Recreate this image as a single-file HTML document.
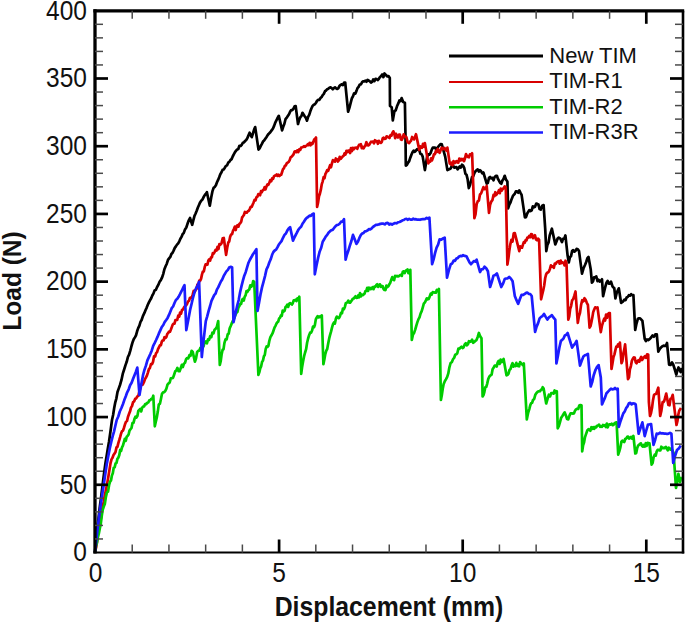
<!DOCTYPE html>
<html><head><meta charset="utf-8"><style>
html,body{margin:0;padding:0;background:#fff;}
body{width:685px;height:623px;overflow:hidden;}
svg{display:block;}
text{font-family:"Liberation Sans",sans-serif;fill:#111;}
</style></head><body>
<svg width="685" height="623" viewBox="0 0 685 623">
<g>
<polyline points="95.0,552.0 96.1,539.5 97.2,528.5 98.5,518.3 99.8,506.8 101.2,496.4 102.6,485.0 104.0,473.7 105.4,463.4 106.6,456.2 107.8,448.8 109.0,441.7 110.5,431.2 112.0,420.0 113.1,415.0 114.2,408.0 115.3,402.3 116.4,398.3 117.5,392.0 118.8,388.4 120.0,385.0 121.4,380.2 122.9,373.3 124.3,369.0 125.5,365.1 126.7,361.8 127.9,357.0 129.1,354.6 130.3,350.6 131.5,346.0 132.6,342.2 133.7,339.3 134.9,337.4 136.0,335.3 137.1,331.3 138.2,328.1 139.4,325.6 140.5,321.9 141.6,320.0 142.9,316.1 144.3,313.2 145.6,310.0 146.7,307.6 147.8,304.8 148.9,302.4 150.1,300.1 151.2,298.2 152.3,295.5 153.4,293.6 154.6,290.4 155.9,289.8 157.1,287.0 158.3,284.9 159.6,281.7 160.8,280.1 162.0,277.7 163.2,274.1 164.4,269.2 165.6,266.3 166.8,263.7 168.0,259.9 169.1,258.4 170.3,256.9 171.4,254.0 172.5,252.8 173.6,250.6 174.8,247.9 175.9,246.4 177.0,244.6 178.2,243.3 179.3,241.3 180.4,238.7 181.5,236.9 182.7,233.9 183.8,232.9 185.0,229.4 186.3,227.5 187.5,223.8 188.8,220.3 190.0,218.0 192.2,224.8 193.3,220.4 194.5,215.8 195.6,213.5 196.7,210.8 197.9,207.5 199.0,205.0 200.1,202.4 201.2,200.7 202.4,199.6 203.5,197.3 204.6,195.4 205.8,193.9 206.9,192.2 209.8,205.7 211.2,197.5 212.5,191.1 213.6,187.9 214.7,187.0 215.9,185.3 217.0,182.3 218.1,179.9 219.2,177.2 220.3,174.2 221.5,172.3 222.6,169.8 223.7,169.4 224.8,167.7 225.9,165.9 227.1,165.3 228.2,162.7 229.3,161.9 230.4,160.1 231.6,159.1 232.7,156.5 233.8,154.4 235.0,152.1 236.1,150.7 237.2,149.5 238.3,149.0 239.4,145.8 240.6,146.0 241.7,144.8 242.8,142.8 243.9,142.4 245.1,141.0 246.2,140.0 247.3,138.3 248.4,135.5 249.6,132.7 250.7,135.1 251.8,137.2 252.9,133.7 254.1,129.6 255.2,127.1 258.5,149.6 259.6,148.4 260.8,145.9 261.9,143.9 263.0,141.6 264.1,140.6 265.3,138.8 266.4,137.2 267.5,135.4 268.6,133.9 269.8,132.8 270.9,131.4 272.0,129.9 273.1,128.2 274.2,125.6 275.4,122.3 276.5,120.2 277.7,117.6 278.8,115.8 282.1,130.4 283.2,126.8 284.4,123.7 285.5,119.2 286.6,117.9 287.8,116.0 289.0,114.2 290.1,111.7 291.2,110.1 292.3,110.1 293.5,108.7 294.6,106.4 295.7,106.1 298.0,124.0 299.1,120.2 300.2,117.4 301.4,116.1 302.5,112.8 304.7,116.2 305.9,117.9 307.0,120.7 308.1,116.8 309.2,114.8 310.4,111.1 311.5,108.3 312.6,105.9 313.8,104.7 314.9,104.2 316.0,102.7 317.1,100.8 318.2,99.9 319.4,99.8 320.5,98.1 321.6,97.1 322.7,95.1 323.8,93.9 325.0,91.2 326.1,90.5 327.2,89.2 328.3,88.7 329.4,87.8 330.6,87.4 331.7,88.1 332.8,89.2 333.9,88.1 335.0,87.3 336.2,88.4 337.3,89.0 338.4,88.1 339.5,85.8 340.7,84.9 341.8,84.3 342.9,85.0 344.1,82.5 345.2,82.5 348.1,111.7 349.4,107.8 350.6,103.2 351.9,98.2 353.0,96.3 354.1,93.3 355.3,93.6 356.4,91.1 357.5,88.1 358.6,86.8 359.7,84.5 360.9,84.5 362.0,82.3 363.1,81.3 364.2,81.5 365.4,80.7 366.5,81.7 367.6,79.8 368.8,80.6 369.9,81.3 371.0,82.5 372.1,81.9 373.2,79.5 374.4,81.1 375.5,78.8 376.6,79.1 377.7,80.1 378.9,78.8 380.0,77.1 381.1,76.0 382.2,74.5 383.4,77.1 384.5,73.5 385.6,74.6 387.1,76.4 388.5,76.0 389.8,78.0 390.0,106.0 391.7,107.3 392.8,120.4 394.4,111.2 395.7,110.3 397.0,106.3 398.3,103.4 399.4,100.5 400.5,101.2 401.6,98.1 403.2,102.1 404.9,102.7 405.5,136.2 405.8,165.6 406.9,164.8 408.1,162.6 409.2,161.1 410.3,157.7 411.5,154.5 412.6,152.1 413.7,150.6 414.8,151.8 416.0,150.5 417.1,149.2 418.2,149.9 419.3,150.2 420.4,153.8 421.6,154.2 422.7,156.6 424.9,170.1 426.0,163.3 427.2,156.6 428.3,154.3 429.4,154.6 430.6,153.0 431.7,149.9 432.8,147.6 433.9,147.7 435.0,147.6 436.2,149.4 437.3,148.1 438.4,146.5 439.5,145.2 440.7,144.0 441.8,144.3 445.2,156.6 447.4,170.1 448.5,169.6 449.6,169.1 450.8,168.3 451.9,165.6 453.0,165.4 454.2,167.7 455.3,167.4 456.4,167.1 457.6,169.3 458.7,167.9 459.8,166.4 460.9,167.6 462.0,164.7 463.1,165.6 464.2,167.8 465.4,173.8 466.5,174.7 467.6,179.1 468.8,188.1 469.9,185.3 471.0,181.0 472.1,176.9 473.2,176.4 474.4,173.0 475.5,171.2 476.6,170.1 477.7,169.4 478.9,171.5 480.0,170.2 481.1,171.3 482.3,173.4 483.4,172.5 486.7,183.7 487.8,182.9 489.0,177.9 490.1,177.0 491.2,178.3 492.4,177.8 493.5,180.3 494.6,177.1 495.8,175.8 496.9,175.8 498.0,179.1 499.1,180.8 500.2,182.9 501.3,183.7 502.4,180.5 503.6,178.8 504.7,175.8 506.0,179.7 507.4,181.5 508.1,208.4 509.2,205.0 510.4,202.7 511.5,199.4 513.1,195.6 514.8,193.8 515.9,191.4 517.0,191.3 518.2,192.7 519.3,190.4 520.5,192.9 521.6,194.9 524.9,217.4 526.0,217.1 527.2,213.5 528.3,211.8 529.4,210.1 530.5,211.0 531.7,210.3 532.8,206.4 533.9,207.3 535.0,206.8 536.2,203.6 537.3,203.9 538.4,204.4 539.6,209.1 540.7,209.6 542.2,205.7 543.6,205.1 545.2,228.7 546.3,251.1 547.4,244.9 548.6,242.4 549.7,235.4 551.9,228.7 555.3,244.4 556.4,241.8 557.6,238.5 558.7,237.6 560.4,238.7 562.0,242.1 563.1,238.9 564.3,238.5 565.4,235.4 567.6,255.6 568.8,262.4 569.9,257.2 571.0,256.3 572.1,251.1 573.2,250.1 574.4,251.7 575.5,250.9 576.6,248.9 577.8,249.2 579.0,251.0 582.0,273.6 583.5,268.3 585.1,264.7 586.2,262.0 587.4,258.1 588.5,256.9 590.7,269.2 591.9,282.7 593.0,281.4 594.1,277.3 595.2,277.1 596.3,276.5 597.5,281.1 598.6,279.7 599.7,281.6 600.9,280.8 602.0,279.3 603.1,296.2 604.2,291.5 605.4,286.5 606.5,282.7 607.6,280.9 608.8,283.6 609.9,283.6 611.0,281.6 612.6,286.6 614.3,288.3 615.4,298.4 616.5,293.6 617.7,290.6 618.8,288.3 621.1,302.9 622.8,301.7 624.4,299.6 625.5,300.2 626.6,297.5 627.8,296.9 628.9,295.1 630.0,295.7 631.1,294.2 632.3,295.2 633.4,295.1 635.2,329.9 636.5,323.6 637.9,318.7 639.0,318.3 640.1,318.3 641.3,319.6 642.4,320.9 644.7,338.9 645.9,341.0 647.0,339.5 648.2,340.1 649.6,339.1 651.1,337.5 652.5,335.5 653.9,336.7 655.4,334.3 656.8,334.3 658.3,351.6 659.8,348.8 661.2,347.3 662.4,346.2 663.6,345.7 664.8,345.9 665.9,345.7 667.0,343.0 669.1,364.6 670.5,365.0 672.0,362.5 673.1,364.3 674.2,367.5 676.3,374.7 677.4,370.5 678.5,367.5 679.6,369.9 680.7,372.0 682.0,368.0" fill="none" stroke="#000" stroke-width="2.7" stroke-linejoin="round"/>
<polyline points="95.0,552.0 96.0,547.9 97.0,542.0 97.9,532.6 98.9,528.5 99.8,521.4 100.8,519.0 101.7,513.2 102.6,506.8 103.7,502.0 104.8,495.1 105.8,490.9 106.9,485.0 108.1,478.2 109.3,470.9 110.5,463.4 111.5,459.4 112.5,457.8 113.5,455.0 114.5,453.6 115.5,452.0 116.5,447.4 117.4,446.8 118.4,442.8 119.3,440.0 120.2,436.9 121.1,433.5 122.1,431.1 123.0,430.6 124.0,427.7 125.0,424.3 126.0,421.8 127.0,421.0 128.0,416.7 129.0,414.1 130.0,411.6 131.0,407.6 132.0,406.0 133.1,402.2 134.1,401.5 135.2,398.8 136.2,398.4 137.3,396.5 138.4,395.6 139.4,391.4 140.5,386.6 141.6,385.0 142.7,384.6 143.9,382.2 145.0,379.0 146.0,377.5 146.9,375.7 147.9,372.6 148.9,369.1 149.9,368.0 151.0,364.0 152.0,364.2 153.0,361.9 154.0,356.4 155.1,356.5 156.1,353.2 157.1,352.1 158.0,349.2 158.9,347.5 159.9,345.4 160.9,345.2 161.8,341.6 162.7,340.3 163.6,340.4 164.5,337.2 165.4,338.1 166.4,336.9 167.3,333.9 168.2,333.0 169.1,331.5 170.0,331.7 170.9,329.5 171.8,327.1 172.7,324.6 173.6,323.6 174.5,323.7 175.4,320.1 176.3,320.0 177.2,320.0 178.2,315.7 179.2,316.6 180.1,312.6 181.1,313.5 182.0,310.0 183.0,309.5 184.0,307.4 185.0,306.2 186.0,305.4 187.0,303.9 188.0,301.4 189.0,300.9 189.9,298.0 190.9,297.6 191.8,297.6 192.7,294.7 193.7,290.8 194.6,292.1 195.5,290.0 196.5,289.1 197.4,284.5 198.3,285.0 199.3,280.6 200.2,280.7 201.1,278.6 202.0,274.4 202.9,271.5 203.8,271.4 204.7,267.2 205.6,264.3 206.5,264.6 207.4,264.6 208.3,260.8 209.2,259.3 210.1,260.6 211.0,257.4 211.9,257.3 212.8,253.2 213.7,253.7 214.7,251.9 215.6,249.8 216.6,250.5 217.5,246.9 218.5,249.1 219.4,244.1 220.4,244.7 221.5,243.4 222.7,238.3 223.8,238.0 226.1,254.8 227.2,247.7 228.3,242.5 229.2,241.5 230.2,236.6 231.1,234.5 232.0,234.3 233.0,230.8 233.9,229.0 234.8,226.7 235.7,230.0 236.6,226.2 237.5,225.3 238.4,226.7 239.3,224.1 240.2,223.3 241.2,221.8 242.1,217.4 243.0,216.3 243.9,215.0 244.9,212.0 245.8,212.5 246.8,212.6 247.8,211.3 248.8,210.8 249.7,209.1 250.7,206.9 251.7,206.9 252.6,204.8 253.6,202.4 254.5,200.0 255.5,200.3 256.4,197.4 257.4,196.7 258.3,194.1 259.2,194.5 260.1,195.2 261.0,191.2 261.9,192.0 262.8,190.2 263.7,189.7 264.6,187.2 265.5,189.4 266.4,186.6 267.4,184.5 268.3,184.8 269.3,182.9 270.2,180.2 271.2,181.3 272.1,178.5 273.1,178.8 274.0,176.3 274.9,175.6 275.8,175.4 276.7,174.5 277.6,175.9 278.5,174.8 279.4,176.0 280.3,175.1 281.2,174.7 282.1,172.0 283.0,169.2 283.9,168.3 284.9,165.8 285.8,165.5 286.7,163.4 287.7,162.6 288.6,162.0 289.6,160.4 290.6,157.3 291.6,156.7 292.5,155.8 293.5,154.4 294.5,151.8 295.4,151.3 296.4,152.1 297.3,150.3 298.3,152.1 299.2,149.5 300.2,149.9 301.2,147.6 302.1,147.3 303.1,146.9 304.1,146.2 305.1,146.8 306.0,145.9 307.0,145.4 307.9,144.1 308.8,145.1 309.7,142.8 310.6,145.3 311.5,143.1 312.4,144.0 313.3,141.9 314.2,139.5 315.1,138.7 316.0,137.5 317.1,206.9 318.0,203.0 319.0,196.4 319.9,193.7 320.8,189.9 321.8,184.1 322.7,181.3 323.6,177.2 324.5,178.2 325.4,174.0 326.3,172.4 327.2,170.1 328.2,170.8 329.1,168.1 330.1,165.2 331.0,167.3 332.0,163.1 332.9,160.1 333.9,161.1 334.9,161.7 335.8,158.5 336.8,159.2 337.8,161.5 338.8,160.4 339.7,156.8 340.7,158.9 341.7,157.7 342.6,156.5 343.6,155.9 344.5,153.5 345.5,154.5 346.4,150.9 347.4,152.1 348.3,150.5 349.2,150.5 350.1,153.0 351.0,148.1 351.9,151.2 352.8,147.8 353.7,149.3 354.6,147.9 355.5,147.9 356.4,147.6 357.3,148.8 358.2,146.6 359.1,144.9 360.0,144.6 360.9,144.2 361.8,148.2 362.7,146.8 363.6,148.4 364.5,146.7 365.4,145.4 366.4,142.2 367.3,145.3 368.3,145.5 369.2,144.7 370.2,143.0 371.1,141.7 372.1,142.0 373.1,141.6 374.0,143.4 375.0,140.2 376.0,141.5 377.0,141.1 377.9,143.8 378.9,140.9 379.9,142.4 380.8,142.9 381.8,142.0 382.7,138.4 383.7,137.7 384.6,138.9 385.6,138.7 386.6,136.4 387.5,136.6 388.5,137.3 389.5,138.0 390.5,135.1 391.4,135.7 392.4,133.0 393.3,131.3 394.3,133.6 395.2,138.2 396.1,133.9 397.1,136.3 398.0,137.5 399.0,134.7 399.9,134.7 400.9,139.4 401.8,139.8 402.8,137.6 403.7,134.3 404.7,136.4 405.6,136.5 406.5,137.5 407.4,141.4 408.3,142.8 409.2,143.1 410.2,141.5 411.1,140.7 412.1,137.0 413.1,138.3 414.1,139.4 415.0,137.0 416.0,134.2 419.3,149.9 420.2,146.3 421.2,147.7 422.1,147.8 423.0,143.9 424.0,146.6 424.9,143.1 428.3,163.4 429.2,161.7 430.2,161.6 431.1,158.3 432.0,160.4 433.0,157.6 433.9,154.4 434.9,154.2 435.8,151.0 436.8,152.1 437.8,149.0 438.8,151.8 439.7,152.8 440.7,149.9 441.7,147.7 442.6,149.3 443.6,148.8 444.5,148.0 445.5,149.5 446.4,150.5 447.4,147.6 449.7,163.4 450.7,164.3 451.6,162.6 452.6,165.2 453.5,161.1 454.5,163.2 455.4,162.4 456.4,161.1 457.4,162.4 458.3,162.6 459.3,158.5 460.2,160.6 461.2,158.9 462.1,160.2 463.1,158.9 464.1,161.1 465.0,158.4 466.0,154.0 467.0,156.1 468.0,157.0 468.9,157.3 469.9,154.4 471.0,154.8 472.1,153.3 474.4,218.1 475.5,214.4 476.7,203.9 477.8,201.2 478.9,200.5 480.0,194.5 481.1,193.4 482.3,190.2 483.4,187.1 484.5,189.2 485.6,188.7 486.7,186.0 489.0,212.9 490.1,204.9 491.2,201.7 492.4,200.2 493.5,194.9 494.4,196.1 495.3,192.2 496.2,195.0 497.1,193.7 498.0,192.7 498.9,190.2 499.8,193.2 500.7,188.5 501.6,190.7 502.5,189.3 503.6,188.2 504.7,186.4 505.8,187.1 507.4,264.6 508.4,258.3 509.3,250.9 510.3,244.4 511.4,239.8 512.5,241.6 513.7,233.4 514.8,233.1 519.3,251.1 520.2,246.3 521.1,247.4 522.0,247.7 522.9,244.9 523.8,242.1 524.7,242.7 525.6,240.2 526.5,240.4 527.4,237.5 528.3,237.6 529.2,236.0 530.2,237.3 531.1,234.2 532.0,234.3 533.0,238.2 533.9,236.5 534.9,235.2 536.0,239.4 537.0,240.2 538.1,238.6 539.1,239.9 541.1,299.3 542.1,295.0 543.2,290.4 544.2,285.5 545.2,278.0 546.2,274.2 547.1,272.7 548.1,272.4 549.0,271.3 550.0,268.7 550.9,265.4 551.9,266.7 552.9,266.3 553.8,267.9 554.8,263.5 555.8,263.8 556.8,262.1 557.7,261.6 558.7,261.2 559.7,263.7 560.7,260.6 561.6,263.0 562.6,262.3 563.6,262.9 564.5,265.4 565.5,260.7 566.5,263.5 568.3,319.6 569.2,316.7 570.2,308.8 571.1,306.1 572.1,300.4 573.2,299.2 574.4,295.4 575.5,291.5 577.8,322.9 578.9,316.3 580.0,312.9 581.1,304.9 582.2,300.2 583.4,301.2 584.5,298.2 585.6,299.8 586.8,302.8 587.9,304.9 589.6,327.6 590.5,326.1 591.4,322.2 592.3,317.6 593.2,312.1 594.1,309.7 595.2,307.3 596.4,307.9 597.5,307.4 600.8,332.1 601.9,326.0 603.1,321.8 604.2,318.7 605.1,320.5 606.1,314.5 607.0,317.8 607.9,314.2 608.9,313.1 609.8,313.0 611.5,369.0 612.5,363.2 613.5,357.0 614.4,354.6 615.4,350.1 616.3,346.6 617.2,346.7 618.1,344.3 619.0,346.4 619.9,342.5 621.5,363.2 622.4,361.0 623.3,353.5 624.2,349.9 625.1,344.4 628.0,379.1 629.0,377.3 629.9,369.4 630.9,366.1 631.9,360.8 632.8,358.7 633.8,357.4 634.7,357.5 635.7,362.3 636.6,363.2 637.5,361.4 638.5,360.2 639.4,361.7 640.3,358.9 641.2,356.9 642.1,360.0 643.0,358.6 643.9,357.4 645.0,356.1 646.0,357.9 647.1,354.3 648.2,354.5 648.9,402.2 650.0,416.0 651.0,413.0 652.0,408.0 653.0,400.2 654.0,394.9 655.1,394.2 656.1,394.0 657.2,391.0 658.3,387.7 660.2,416.0 661.4,410.6 662.6,402.2 663.5,402.2 664.4,400.5 665.3,397.2 666.2,393.5 668.4,405.0 669.5,405.3 670.5,398.7 671.6,398.2 672.7,394.9 676.5,425.0 677.4,421.3 678.3,414.7 679.2,410.8 681.0,408.0" fill="none" stroke="#d80000" stroke-width="2.7" stroke-linejoin="round"/>
<polyline points="95.0,552.0 96.0,546.0 96.9,542.8 97.9,537.3 98.8,533.7 99.8,528.5 100.8,523.7 101.8,515.6 102.7,509.9 103.7,506.8 104.8,504.1 105.9,496.9 106.9,492.4 108.0,491.7 109.1,485.0 110.0,481.8 111.0,480.4 111.9,475.6 112.8,473.3 113.7,467.9 114.7,467.1 115.6,463.4 116.5,462.9 117.4,458.9 118.3,457.7 119.3,455.1 120.2,449.9 121.1,450.9 122.0,447.4 122.9,445.7 123.9,442.2 124.8,438.8 125.8,440.8 126.7,436.8 127.6,435.9 128.6,434.5 129.5,430.6 130.5,429.3 131.5,428.0 132.5,423.1 133.5,422.8 134.5,418.8 135.5,416.7 136.4,417.5 137.4,416.0 138.3,411.0 139.3,409.9 140.2,409.0 141.2,411.4 142.2,407.6 143.1,406.6 144.1,406.4 145.2,404.0 146.2,404.2 147.3,402.8 148.3,402.5 149.3,400.4 150.3,400.2 151.3,398.8 152.3,399.0 153.3,395.7 154.8,426.3 155.8,421.7 156.8,417.4 157.8,411.6 158.8,404.4 159.9,403.8 160.9,399.2 162.0,393.8 163.1,392.4 164.2,392.2 165.3,390.8 166.4,388.6 167.5,384.7 168.6,383.4 169.7,382.5 170.8,378.4 171.9,378.2 173.0,377.9 174.1,374.7 175.2,371.4 176.3,370.5 177.4,367.9 178.5,371.1 179.6,371.2 180.7,368.3 181.8,364.9 182.8,367.0 183.9,363.7 185.0,362.8 186.1,359.2 187.2,358.0 188.3,358.4 189.4,355.2 190.5,355.9 191.6,350.8 192.7,351.9 194.9,361.7 196.0,358.6 197.1,352.2 198.2,350.8 199.3,350.7 200.4,347.8 201.5,347.5 202.6,347.5 203.6,346.1 204.7,342.0 205.8,341.5 206.9,343.3 208.0,339.5 209.1,339.9 210.2,336.2 211.3,337.1 212.4,332.7 213.5,333.3 214.6,329.7 215.7,328.7 216.8,327.0 218.2,321.1 219.8,365.0 220.7,361.2 221.6,354.6 222.6,349.7 223.5,349.2 224.4,343.1 225.5,339.3 226.6,339.5 227.7,334.4 228.7,333.6 229.7,328.3 230.7,326.0 231.7,323.4 232.7,321.2 233.6,319.6 234.6,317.1 235.5,314.7 236.5,312.7 237.4,312.0 238.4,307.6 239.3,306.1 240.2,304.1 241.1,303.9 242.0,300.1 242.9,298.8 243.8,300.5 244.7,296.7 245.6,295.3 246.5,291.1 247.4,291.9 248.4,290.1 249.3,289.4 250.3,285.3 251.3,286.7 252.3,285.3 253.2,281.1 254.2,281.8 258.4,374.9 259.3,372.4 260.2,368.5 261.1,366.5 262.1,361.8 263.0,360.4 263.9,356.3 264.8,354.9 265.7,348.9 266.6,346.5 267.5,346.9 268.4,345.8 269.3,341.0 270.4,337.1 271.5,335.3 272.6,333.2 273.7,330.0 274.6,327.4 275.5,325.8 276.4,323.8 277.3,322.3 278.2,321.7 279.1,318.5 280.0,317.7 280.9,315.5 281.8,315.8 282.7,310.6 283.7,311.6 284.6,310.8 285.5,307.1 286.4,306.4 287.3,304.6 288.2,306.9 289.1,303.8 290.1,303.1 291.0,303.8 291.9,304.6 292.8,303.2 293.7,300.4 294.7,300.5 295.6,299.6 296.5,301.1 297.4,298.3 298.4,299.3 299.3,296.7 301.2,373.9 302.2,366.4 303.1,361.3 304.1,356.2 305.1,352.5 306.1,349.2 307.1,342.7 308.1,338.5 309.1,335.2 310.1,332.7 311.1,332.6 312.1,330.5 313.0,326.6 314.0,327.2 314.9,324.9 315.8,319.4 316.8,317.4 317.7,316.1 318.7,317.4 319.8,316.4 320.8,317.0 321.8,315.3 323.4,364.2 324.4,359.3 325.3,354.1 326.3,350.7 327.2,349.0 328.2,343.4 329.2,338.4 330.1,334.9 331.1,331.4 332.0,327.6 333.0,324.1 334.0,322.4 334.9,323.6 335.9,318.6 336.8,316.6 337.8,317.7 338.9,318.2 339.9,316.3 341.0,312.8 342.0,313.2 342.9,308.6 343.9,309.2 344.8,307.2 345.8,303.2 347.4,302.4 348.3,300.6 349.2,302.7 350.1,302.7 351.0,301.4 351.9,300.2 352.8,298.7 353.7,298.5 354.6,297.5 355.5,296.3 356.4,297.9 357.3,297.6 358.2,295.5 359.1,297.3 360.0,293.0 360.9,296.4 361.8,294.7 362.7,295.2 363.6,294.4 364.5,293.7 365.4,291.1 366.3,291.0 367.2,287.9 368.1,290.9 369.0,287.7 369.9,287.9 370.8,289.2 371.7,288.1 372.6,287.1 373.5,289.2 374.4,286.6 375.3,286.8 376.3,285.1 377.2,284.3 378.1,286.9 379.1,284.7 380.0,284.4 380.9,286.9 381.8,285.9 382.7,286.3 383.6,289.0 384.5,290.0 385.5,290.1 386.4,285.5 387.4,287.1 388.3,286.3 389.3,284.3 390.2,282.9 391.2,279.9 392.2,277.1 393.1,279.5 394.1,280.2 395.1,275.8 396.1,276.4 397.0,275.9 398.0,276.5 399.0,276.1 399.9,275.2 400.9,274.9 401.8,275.9 402.8,271.7 403.7,271.4 404.7,273.1 405.6,270.8 406.6,270.2 407.5,269.4 408.4,273.2 409.4,272.1 410.3,269.8 411.8,340.0 413.0,334.5 414.1,332.9 415.3,329.4 416.4,325.3 417.4,322.1 418.5,319.1 419.5,317.4 420.6,313.5 421.7,311.1 422.8,307.3 423.8,303.7 424.9,302.4 425.9,300.4 426.8,298.3 427.8,299.3 428.8,298.9 429.8,296.2 430.7,293.6 431.7,294.5 432.7,292.2 433.8,292.3 434.8,292.6 435.8,292.7 436.8,289.9 437.9,291.1 438.9,288.9 440.9,400.0 441.8,395.3 442.7,389.1 443.6,384.2 444.8,381.2 445.9,379.4 447.1,377.1 448.3,373.4 449.4,367.3 450.6,363.0 451.8,362.2 453.0,359.3 454.2,357.7 455.2,354.7 456.3,354.3 457.3,353.3 458.4,348.5 459.4,348.8 460.5,347.6 461.5,346.7 462.6,348.0 463.6,347.4 464.7,344.4 465.8,343.3 466.8,345.3 467.9,344.2 468.9,341.2 470.0,341.8 471.1,341.4 472.1,339.6 473.2,342.8 474.2,341.9 475.3,340.9 476.5,340.1 477.7,337.0 478.9,333.0 480.2,336.4 481.5,338.2 482.6,396.5 483.5,395.1 484.4,391.8 485.3,387.2 486.2,387.0 487.1,384.1 488.3,378.8 489.4,376.5 490.6,375.3 491.6,374.7 492.6,369.2 493.7,367.5 494.7,365.6 495.7,365.6 496.7,366.6 497.7,362.4 498.7,360.8 499.6,363.9 500.6,359.6 501.6,362.2 502.6,360.6 503.6,358.9 506.5,375.3 507.5,375.0 508.5,373.6 509.5,369.9 510.5,369.0 511.5,365.6 512.5,363.2 513.4,366.6 514.4,365.2 515.3,366.0 516.3,362.9 517.2,365.9 518.2,364.5 519.1,366.4 520.1,362.0 521.0,363.1 521.9,364.1 522.9,365.2 523.8,363.4 526.8,419.4 528.1,412.9 529.4,408.8 530.3,405.1 531.2,403.2 532.1,402.8 533.0,400.0 534.2,398.9 535.3,394.8 536.5,393.0 537.7,391.8 538.8,391.3 540.0,391.2 540.9,389.8 541.8,389.5 542.7,387.2 543.6,388.5 546.2,403.5 547.5,399.1 548.9,394.7 550.1,396.4 551.2,393.1 552.4,393.0 553.5,393.7 554.6,390.5 555.7,392.6 556.8,391.2 557.7,428.3 558.9,426.0 560.0,422.1 561.2,417.7 562.4,416.0 563.5,414.1 564.7,412.4 565.9,415.4 567.1,419.0 568.3,419.4 569.5,415.7 570.6,413.4 571.8,413.3 572.9,413.6 573.9,413.5 575.0,410.7 576.0,409.4 577.1,408.8 578.2,409.0 579.3,405.5 580.4,405.1 581.5,405.3 582.2,451.4 583.1,445.2 584.1,442.3 585.0,437.1 586.2,433.6 587.3,430.5 588.5,429.2 589.5,429.8 590.4,430.7 591.4,427.2 592.3,428.9 593.3,427.1 594.2,428.9 595.2,426.9 596.2,427.3 597.1,425.8 598.1,425.5 599.1,424.6 600.1,426.8 601.0,426.3 602.0,426.9 603.0,425.0 603.9,425.6 604.9,425.1 605.8,427.0 606.8,423.6 607.7,427.4 608.7,424.7 609.7,424.3 610.7,424.6 611.7,423.7 612.7,425.2 613.6,424.8 614.6,423.2 615.6,422.6 616.6,422.4 618.2,454.6 619.3,451.4 620.3,447.7 621.4,441.7 622.4,440.6 623.3,441.5 624.3,442.0 625.2,439.0 626.2,438.5 627.2,436.9 628.1,436.6 629.1,438.6 630.0,438.1 631.0,436.9 632.2,438.6 633.4,435.9 635.3,453.5 636.2,453.0 637.2,448.0 638.1,445.6 639.1,444.9 640.1,443.7 641.0,443.4 642.0,445.9 642.9,446.6 643.9,444.9 644.8,446.6 645.8,443.2 646.7,445.9 647.6,442.9 648.6,443.2 649.5,443.3 651.6,464.6 652.6,463.1 653.6,457.3 654.7,454.7 655.7,455.6 656.7,451.4 657.6,449.9 658.6,449.8 659.5,450.4 660.4,450.4 661.3,446.7 662.3,447.9 663.2,448.2 664.1,447.9 665.0,448.1 665.9,446.8 666.9,448.6 667.8,450.4 668.7,447.7 669.6,448.2 670.6,449.6 671.6,448.8 672.6,450.7 673.6,453.0 676.0,488.0 677.2,481.7 678.4,473.8 680.0,482.0 681.0,478.1 682.0,478.0" fill="none" stroke="#00cc00" stroke-width="2.7" stroke-linejoin="round"/>
<polyline points="95.0,552.0 97.6,528.5 99.0,517.2 100.4,506.8 102.1,495.2 103.7,485.0 105.3,474.0 106.9,463.4 108.4,455.5 109.8,448.2 111.3,441.7 112.7,436.1 114.0,431.6 115.3,426.0 116.7,420.0 118.3,416.5 119.8,411.5 121.4,408.0 122.9,404.3 124.3,400.1 125.8,396.2 127.2,392.3 128.7,389.3 130.1,385.2 131.6,382.8 133.0,379.0 134.4,375.4 135.9,371.8 137.3,367.6 139.5,395.0 141.3,384.3 143.1,374.8 144.5,369.7 146.0,365.4 147.4,360.4 148.8,357.4 150.3,354.1 151.7,350.7 153.2,345.8 154.6,343.1 156.1,340.0 157.5,336.9 158.9,333.4 160.4,330.1 161.8,327.0 163.3,325.0 164.8,321.8 166.2,320.0 167.6,317.9 169.0,314.9 170.4,311.5 171.7,308.2 173.1,306.5 174.5,303.0 175.9,300.0 177.3,298.8 178.6,296.8 180.0,294.2 181.5,291.2 183.0,288.0 184.5,285.2 186.3,330.1 188.2,320.2 190.1,309.9 191.6,303.8 193.1,297.3 194.6,291.9 196.1,288.2 197.6,285.7 199.1,281.8 201.8,357.0 203.1,344.2 204.5,332.3 205.8,321.1 207.2,316.3 208.7,310.6 210.1,306.0 211.5,300.9 212.8,298.1 214.2,295.2 215.5,293.7 216.9,289.6 218.2,287.4 219.5,284.5 220.9,281.5 222.2,279.5 223.6,276.2 224.9,273.9 226.4,271.4 227.9,269.9 229.4,267.2 230.8,266.9 232.1,267.2 233.5,322.2 235.4,313.9 237.3,305.4 238.7,300.0 240.1,292.3 241.5,286.1 242.9,280.7 244.3,275.7 245.7,272.2 247.1,267.4 248.5,262.7 249.9,259.7 251.3,257.3 252.8,254.5 254.2,252.6 256.4,249.2 257.5,311.0 259.0,303.1 260.5,294.4 262.0,287.4 263.5,281.8 265.0,276.1 266.5,269.4 267.9,266.6 269.3,262.5 270.7,259.3 272.1,254.8 273.4,252.0 274.7,250.5 276.1,249.7 277.4,247.4 278.7,244.8 280.0,243.0 281.5,241.1 283.0,237.8 284.5,234.9 285.9,233.5 287.3,230.6 288.7,228.5 290.1,227.1 293.0,240.6 294.9,236.5 296.9,232.7 298.3,229.8 299.7,228.0 301.1,226.8 302.5,223.7 303.9,221.7 305.3,219.5 306.7,217.9 308.1,217.0 309.5,215.6 310.9,215.8 312.3,214.2 313.7,213.6 314.8,274.3 316.5,265.5 318.2,257.4 319.7,251.4 321.2,247.8 322.7,241.7 324.2,239.3 325.7,236.6 327.2,234.9 328.5,232.8 329.9,231.4 331.2,230.3 332.6,229.9 333.9,228.2 335.3,226.4 336.8,225.1 338.2,224.8 339.6,223.7 341.1,221.7 342.5,221.6 344.0,219.2 345.6,259.7 347.0,254.5 348.3,250.8 349.7,246.2 351.4,241.0 353.0,234.9 354.7,239.2 356.4,243.9 357.9,241.8 359.4,237.9 360.9,234.9 362.2,233.5 363.6,232.9 364.9,231.4 366.3,231.2 367.6,230.4 369.0,229.1 370.3,229.3 371.7,228.4 373.0,226.9 374.4,226.0 375.9,224.8 377.4,224.8 378.9,224.4 380.4,223.9 381.9,223.6 383.4,223.7 384.8,224.4 386.3,223.1 387.7,222.9 389.2,224.5 390.6,223.8 392.1,224.6 393.5,223.7 395.0,223.0 396.5,223.3 398.0,222.3 399.5,222.0 401.0,221.3 402.5,220.3 403.8,220.0 405.2,219.0 406.5,218.9 407.9,219.8 409.2,218.8 410.6,219.6 411.9,219.7 413.3,218.7 414.6,219.4 416.0,219.2 417.3,219.7 418.7,219.5 420.0,219.8 421.4,219.3 422.7,219.2 424.0,219.2 425.4,218.9 426.7,217.8 428.1,218.7 429.4,217.6 431.2,248.4 432.1,264.2 433.6,259.4 435.1,252.9 436.6,247.6 438.1,244.7 439.6,239.4 441.3,239.6 443.0,238.5 444.7,237.6 447.0,277.6 448.9,270.1 450.8,264.2 452.2,263.5 453.6,260.7 455.0,260.8 456.4,258.5 457.7,258.1 459.1,256.4 460.4,255.9 461.8,256.1 463.1,255.2 464.8,255.9 466.5,256.3 468.0,259.4 469.5,262.3 471.0,264.2 472.4,262.6 473.8,261.1 475.2,261.6 476.6,259.7 480.0,272.0 481.5,269.4 483.0,269.1 484.5,266.7 486.2,268.3 487.9,271.2 490.1,287.0 491.8,281.9 493.5,275.7 495.2,275.1 496.9,273.5 501.3,287.0 503.0,283.7 504.7,279.1 506.2,278.5 507.7,278.3 509.2,276.9 510.9,278.6 512.6,281.3 514.8,296.0 516.5,300.2 518.2,303.8 519.9,299.0 521.6,294.8 523.0,295.0 524.4,294.2 525.8,293.1 527.2,292.6 528.7,293.8 530.2,294.0 531.7,296.0 535.1,331.9 536.6,326.6 538.1,323.1 539.6,318.4 541.1,316.9 542.5,316.1 544.0,313.9 545.7,316.9 547.4,319.6 548.9,317.4 550.4,316.4 551.9,315.1 553.6,317.8 555.3,319.6 556.4,363.4 557.9,355.9 559.4,347.5 560.9,340.9 562.2,339.9 563.6,338.3 564.9,335.4 566.3,334.7 567.6,333.0 572.1,347.6 573.6,345.2 575.1,343.7 576.6,340.9 580.0,365.6 581.7,360.8 583.4,356.6 584.9,355.3 586.4,354.8 587.9,354.0 590.7,386.5 592.2,382.1 593.7,375.2 595.2,370.7 596.9,367.2 598.6,365.1 600.8,377.5 602.0,404.4 603.5,400.9 605.0,397.6 606.5,393.2 608.0,391.7 609.5,390.1 611.0,388.7 612.3,389.3 613.7,389.2 615.0,387.9 616.4,389.4 617.7,388.7 618.8,426.9 620.3,421.9 621.8,417.5 623.3,413.4 624.7,411.5 626.1,408.2 627.5,406.4 628.9,403.3 630.3,402.9 631.6,404.4 633.0,403.4 634.3,403.5 635.7,404.4 638.6,433.7 640.5,428.0 642.4,422.4 644.7,436.1 646.4,430.0 648.0,424.5 649.5,424.4 651.1,424.1 653.5,444.9 655.1,440.0 656.7,433.7 658.3,434.0 659.9,432.7 661.5,433.5 662.9,433.2 664.3,433.6 665.7,433.6 667.2,434.0 668.6,433.6 670.0,432.9 671.4,433.7 673.2,462.8 675.1,455.9 677.0,450.0 678.9,448.4 680.7,445.5" fill="none" stroke="#1c1cff" stroke-width="2.7" stroke-linejoin="round"/>
</g>
<g stroke="#000" stroke-linecap="butt">
<line x1="95.0" y1="9.200000000000001" x2="95.0" y2="553.5" stroke-width="3.3"/>
<line x1="93.4" y1="10.8" x2="684.2" y2="10.8" stroke-width="3.3"/>
<line x1="683.0" y1="10.8" x2="683.0" y2="553.5" stroke-width="2.6"/>
<line x1="93.4" y1="552.5" x2="684.2" y2="552.5" stroke-width="2.2"/>
<line x1="132.22" y1="552.5" x2="132.22" y2="544.5" stroke-width="1.5" stroke="#4a4a4a"/>
<line x1="132.22" y1="10.8" x2="132.22" y2="18.8" stroke-width="1.5" stroke="#4a4a4a"/>
<line x1="168.94" y1="552.5" x2="168.94" y2="544.5" stroke-width="1.5" stroke="#4a4a4a"/>
<line x1="168.94" y1="10.8" x2="168.94" y2="18.8" stroke-width="1.5" stroke="#4a4a4a"/>
<line x1="205.66" y1="552.5" x2="205.66" y2="544.5" stroke-width="1.5" stroke="#4a4a4a"/>
<line x1="205.66" y1="10.8" x2="205.66" y2="18.8" stroke-width="1.5" stroke="#4a4a4a"/>
<line x1="242.38" y1="552.5" x2="242.38" y2="544.5" stroke-width="1.5" stroke="#4a4a4a"/>
<line x1="242.38" y1="10.8" x2="242.38" y2="18.8" stroke-width="1.5" stroke="#4a4a4a"/>
<line x1="279.10" y1="552.5" x2="279.10" y2="539.5" stroke-width="2.7"/>
<line x1="279.10" y1="10.8" x2="279.10" y2="23.8" stroke-width="2.7"/>
<line x1="315.82" y1="552.5" x2="315.82" y2="544.5" stroke-width="1.5" stroke="#4a4a4a"/>
<line x1="315.82" y1="10.8" x2="315.82" y2="18.8" stroke-width="1.5" stroke="#4a4a4a"/>
<line x1="352.54" y1="552.5" x2="352.54" y2="544.5" stroke-width="1.5" stroke="#4a4a4a"/>
<line x1="352.54" y1="10.8" x2="352.54" y2="18.8" stroke-width="1.5" stroke="#4a4a4a"/>
<line x1="389.26" y1="552.5" x2="389.26" y2="544.5" stroke-width="1.5" stroke="#4a4a4a"/>
<line x1="389.26" y1="10.8" x2="389.26" y2="18.8" stroke-width="1.5" stroke="#4a4a4a"/>
<line x1="425.98" y1="552.5" x2="425.98" y2="544.5" stroke-width="1.5" stroke="#4a4a4a"/>
<line x1="425.98" y1="10.8" x2="425.98" y2="18.8" stroke-width="1.5" stroke="#4a4a4a"/>
<line x1="462.70" y1="552.5" x2="462.70" y2="539.5" stroke-width="2.7"/>
<line x1="462.70" y1="10.8" x2="462.70" y2="23.8" stroke-width="2.7"/>
<line x1="499.42" y1="552.5" x2="499.42" y2="544.5" stroke-width="1.5" stroke="#4a4a4a"/>
<line x1="499.42" y1="10.8" x2="499.42" y2="18.8" stroke-width="1.5" stroke="#4a4a4a"/>
<line x1="536.14" y1="552.5" x2="536.14" y2="544.5" stroke-width="1.5" stroke="#4a4a4a"/>
<line x1="536.14" y1="10.8" x2="536.14" y2="18.8" stroke-width="1.5" stroke="#4a4a4a"/>
<line x1="572.86" y1="552.5" x2="572.86" y2="544.5" stroke-width="1.5" stroke="#4a4a4a"/>
<line x1="572.86" y1="10.8" x2="572.86" y2="18.8" stroke-width="1.5" stroke="#4a4a4a"/>
<line x1="609.58" y1="552.5" x2="609.58" y2="544.5" stroke-width="1.5" stroke="#4a4a4a"/>
<line x1="609.58" y1="10.8" x2="609.58" y2="18.8" stroke-width="1.5" stroke="#4a4a4a"/>
<line x1="646.30" y1="552.5" x2="646.30" y2="539.5" stroke-width="2.7"/>
<line x1="646.30" y1="10.8" x2="646.30" y2="23.8" stroke-width="2.7"/>
<line x1="95.0" y1="538.96" x2="103.0" y2="538.96" stroke-width="1.5" stroke="#4a4a4a"/>
<line x1="683.0" y1="538.96" x2="675.0" y2="538.96" stroke-width="1.5" stroke="#4a4a4a"/>
<line x1="95.0" y1="525.41" x2="103.0" y2="525.41" stroke-width="1.5" stroke="#4a4a4a"/>
<line x1="683.0" y1="525.41" x2="675.0" y2="525.41" stroke-width="1.5" stroke="#4a4a4a"/>
<line x1="95.0" y1="511.87" x2="103.0" y2="511.87" stroke-width="1.5" stroke="#4a4a4a"/>
<line x1="683.0" y1="511.87" x2="675.0" y2="511.87" stroke-width="1.5" stroke="#4a4a4a"/>
<line x1="95.0" y1="498.33" x2="103.0" y2="498.33" stroke-width="1.5" stroke="#4a4a4a"/>
<line x1="683.0" y1="498.33" x2="675.0" y2="498.33" stroke-width="1.5" stroke="#4a4a4a"/>
<line x1="95.0" y1="484.78" x2="108.0" y2="484.78" stroke-width="2.7"/>
<line x1="683.0" y1="484.78" x2="670.0" y2="484.78" stroke-width="2.7"/>
<line x1="95.0" y1="471.24" x2="103.0" y2="471.24" stroke-width="1.5" stroke="#4a4a4a"/>
<line x1="683.0" y1="471.24" x2="675.0" y2="471.24" stroke-width="1.5" stroke="#4a4a4a"/>
<line x1="95.0" y1="457.70" x2="103.0" y2="457.70" stroke-width="1.5" stroke="#4a4a4a"/>
<line x1="683.0" y1="457.70" x2="675.0" y2="457.70" stroke-width="1.5" stroke="#4a4a4a"/>
<line x1="95.0" y1="444.16" x2="103.0" y2="444.16" stroke-width="1.5" stroke="#4a4a4a"/>
<line x1="683.0" y1="444.16" x2="675.0" y2="444.16" stroke-width="1.5" stroke="#4a4a4a"/>
<line x1="95.0" y1="430.61" x2="103.0" y2="430.61" stroke-width="1.5" stroke="#4a4a4a"/>
<line x1="683.0" y1="430.61" x2="675.0" y2="430.61" stroke-width="1.5" stroke="#4a4a4a"/>
<line x1="95.0" y1="417.07" x2="108.0" y2="417.07" stroke-width="2.7"/>
<line x1="683.0" y1="417.07" x2="670.0" y2="417.07" stroke-width="2.7"/>
<line x1="95.0" y1="403.53" x2="103.0" y2="403.53" stroke-width="1.5" stroke="#4a4a4a"/>
<line x1="683.0" y1="403.53" x2="675.0" y2="403.53" stroke-width="1.5" stroke="#4a4a4a"/>
<line x1="95.0" y1="389.98" x2="103.0" y2="389.98" stroke-width="1.5" stroke="#4a4a4a"/>
<line x1="683.0" y1="389.98" x2="675.0" y2="389.98" stroke-width="1.5" stroke="#4a4a4a"/>
<line x1="95.0" y1="376.44" x2="103.0" y2="376.44" stroke-width="1.5" stroke="#4a4a4a"/>
<line x1="683.0" y1="376.44" x2="675.0" y2="376.44" stroke-width="1.5" stroke="#4a4a4a"/>
<line x1="95.0" y1="362.90" x2="103.0" y2="362.90" stroke-width="1.5" stroke="#4a4a4a"/>
<line x1="683.0" y1="362.90" x2="675.0" y2="362.90" stroke-width="1.5" stroke="#4a4a4a"/>
<line x1="95.0" y1="349.36" x2="108.0" y2="349.36" stroke-width="2.7"/>
<line x1="683.0" y1="349.36" x2="670.0" y2="349.36" stroke-width="2.7"/>
<line x1="95.0" y1="335.81" x2="103.0" y2="335.81" stroke-width="1.5" stroke="#4a4a4a"/>
<line x1="683.0" y1="335.81" x2="675.0" y2="335.81" stroke-width="1.5" stroke="#4a4a4a"/>
<line x1="95.0" y1="322.27" x2="103.0" y2="322.27" stroke-width="1.5" stroke="#4a4a4a"/>
<line x1="683.0" y1="322.27" x2="675.0" y2="322.27" stroke-width="1.5" stroke="#4a4a4a"/>
<line x1="95.0" y1="308.73" x2="103.0" y2="308.73" stroke-width="1.5" stroke="#4a4a4a"/>
<line x1="683.0" y1="308.73" x2="675.0" y2="308.73" stroke-width="1.5" stroke="#4a4a4a"/>
<line x1="95.0" y1="295.18" x2="103.0" y2="295.18" stroke-width="1.5" stroke="#4a4a4a"/>
<line x1="683.0" y1="295.18" x2="675.0" y2="295.18" stroke-width="1.5" stroke="#4a4a4a"/>
<line x1="95.0" y1="281.64" x2="108.0" y2="281.64" stroke-width="2.7"/>
<line x1="683.0" y1="281.64" x2="670.0" y2="281.64" stroke-width="2.7"/>
<line x1="95.0" y1="268.10" x2="103.0" y2="268.10" stroke-width="1.5" stroke="#4a4a4a"/>
<line x1="683.0" y1="268.10" x2="675.0" y2="268.10" stroke-width="1.5" stroke="#4a4a4a"/>
<line x1="95.0" y1="254.55" x2="103.0" y2="254.55" stroke-width="1.5" stroke="#4a4a4a"/>
<line x1="683.0" y1="254.55" x2="675.0" y2="254.55" stroke-width="1.5" stroke="#4a4a4a"/>
<line x1="95.0" y1="241.01" x2="103.0" y2="241.01" stroke-width="1.5" stroke="#4a4a4a"/>
<line x1="683.0" y1="241.01" x2="675.0" y2="241.01" stroke-width="1.5" stroke="#4a4a4a"/>
<line x1="95.0" y1="227.47" x2="103.0" y2="227.47" stroke-width="1.5" stroke="#4a4a4a"/>
<line x1="683.0" y1="227.47" x2="675.0" y2="227.47" stroke-width="1.5" stroke="#4a4a4a"/>
<line x1="95.0" y1="213.93" x2="108.0" y2="213.93" stroke-width="2.7"/>
<line x1="683.0" y1="213.93" x2="670.0" y2="213.93" stroke-width="2.7"/>
<line x1="95.0" y1="200.38" x2="103.0" y2="200.38" stroke-width="1.5" stroke="#4a4a4a"/>
<line x1="683.0" y1="200.38" x2="675.0" y2="200.38" stroke-width="1.5" stroke="#4a4a4a"/>
<line x1="95.0" y1="186.84" x2="103.0" y2="186.84" stroke-width="1.5" stroke="#4a4a4a"/>
<line x1="683.0" y1="186.84" x2="675.0" y2="186.84" stroke-width="1.5" stroke="#4a4a4a"/>
<line x1="95.0" y1="173.30" x2="103.0" y2="173.30" stroke-width="1.5" stroke="#4a4a4a"/>
<line x1="683.0" y1="173.30" x2="675.0" y2="173.30" stroke-width="1.5" stroke="#4a4a4a"/>
<line x1="95.0" y1="159.75" x2="103.0" y2="159.75" stroke-width="1.5" stroke="#4a4a4a"/>
<line x1="683.0" y1="159.75" x2="675.0" y2="159.75" stroke-width="1.5" stroke="#4a4a4a"/>
<line x1="95.0" y1="146.21" x2="108.0" y2="146.21" stroke-width="2.7"/>
<line x1="683.0" y1="146.21" x2="670.0" y2="146.21" stroke-width="2.7"/>
<line x1="95.0" y1="132.67" x2="103.0" y2="132.67" stroke-width="1.5" stroke="#4a4a4a"/>
<line x1="683.0" y1="132.67" x2="675.0" y2="132.67" stroke-width="1.5" stroke="#4a4a4a"/>
<line x1="95.0" y1="119.12" x2="103.0" y2="119.12" stroke-width="1.5" stroke="#4a4a4a"/>
<line x1="683.0" y1="119.12" x2="675.0" y2="119.12" stroke-width="1.5" stroke="#4a4a4a"/>
<line x1="95.0" y1="105.58" x2="103.0" y2="105.58" stroke-width="1.5" stroke="#4a4a4a"/>
<line x1="683.0" y1="105.58" x2="675.0" y2="105.58" stroke-width="1.5" stroke="#4a4a4a"/>
<line x1="95.0" y1="92.04" x2="103.0" y2="92.04" stroke-width="1.5" stroke="#4a4a4a"/>
<line x1="683.0" y1="92.04" x2="675.0" y2="92.04" stroke-width="1.5" stroke="#4a4a4a"/>
<line x1="95.0" y1="78.50" x2="108.0" y2="78.50" stroke-width="2.7"/>
<line x1="683.0" y1="78.50" x2="670.0" y2="78.50" stroke-width="2.7"/>
<line x1="95.0" y1="64.95" x2="103.0" y2="64.95" stroke-width="1.5" stroke="#4a4a4a"/>
<line x1="683.0" y1="64.95" x2="675.0" y2="64.95" stroke-width="1.5" stroke="#4a4a4a"/>
<line x1="95.0" y1="51.41" x2="103.0" y2="51.41" stroke-width="1.5" stroke="#4a4a4a"/>
<line x1="683.0" y1="51.41" x2="675.0" y2="51.41" stroke-width="1.5" stroke="#4a4a4a"/>
<line x1="95.0" y1="37.87" x2="103.0" y2="37.87" stroke-width="1.5" stroke="#4a4a4a"/>
<line x1="683.0" y1="37.87" x2="675.0" y2="37.87" stroke-width="1.5" stroke="#4a4a4a"/>
<line x1="95.0" y1="24.32" x2="103.0" y2="24.32" stroke-width="1.5" stroke="#4a4a4a"/>
<line x1="683.0" y1="24.32" x2="675.0" y2="24.32" stroke-width="1.5" stroke="#4a4a4a"/>
</g>
<g font-size="24.5">
<text transform="translate(87,561.30) scale(1,1.1)" text-anchor="end">0</text>
<text transform="translate(87,493.58) scale(1,1.1)" text-anchor="end">50</text>
<text transform="translate(87,425.87) scale(1,1.1)" text-anchor="end">100</text>
<text transform="translate(87,358.16) scale(1,1.1)" text-anchor="end">150</text>
<text transform="translate(87,290.44) scale(1,1.1)" text-anchor="end">200</text>
<text transform="translate(87,222.73) scale(1,1.1)" text-anchor="end">250</text>
<text transform="translate(87,155.01) scale(1,1.1)" text-anchor="end">300</text>
<text transform="translate(87,87.30) scale(1,1.1)" text-anchor="end">350</text>
<text transform="translate(87,19.58) scale(1,1.1)" text-anchor="end">400</text>
<text transform="translate(95.50,582) scale(1,1.1)" text-anchor="middle">0</text>
<text transform="translate(279.10,582) scale(1,1.1)" text-anchor="middle">5</text>
<text transform="translate(462.70,582) scale(1,1.1)" text-anchor="middle">10</text>
<text transform="translate(646.30,582) scale(1,1.1)" text-anchor="middle">15</text>
</g>
<g font-size="22">
<line x1="449" y1="56" x2="543" y2="56" stroke="#000" stroke-width="2.8"/>
<line x1="449" y1="82" x2="543" y2="82" stroke="#d80000" stroke-width="2.1"/>
<line x1="449" y1="107.3" x2="543" y2="107.3" stroke="#00cc00" stroke-width="2.5"/>
<line x1="449" y1="132.6" x2="543" y2="132.6" stroke="#1c1cff" stroke-width="2.5"/>
<text transform="translate(549.3,63)">New TIM</text>
<text transform="translate(549.3,88.4)">TIM-R1</text>
<text transform="translate(549.3,113.7)">TIM-R2</text>
<text transform="translate(549.3,139.1)">TIM-R3R</text>
</g>
<text transform="translate(389,616.3) scale(1,1.08)" text-anchor="middle" font-size="24.8" font-weight="bold">Displacement (mm)</text>
<text transform="translate(21,281) rotate(-90) scale(1,1.08)" text-anchor="middle" font-size="24.5" font-weight="bold">Load (N)</text>
</svg>
</body></html>
